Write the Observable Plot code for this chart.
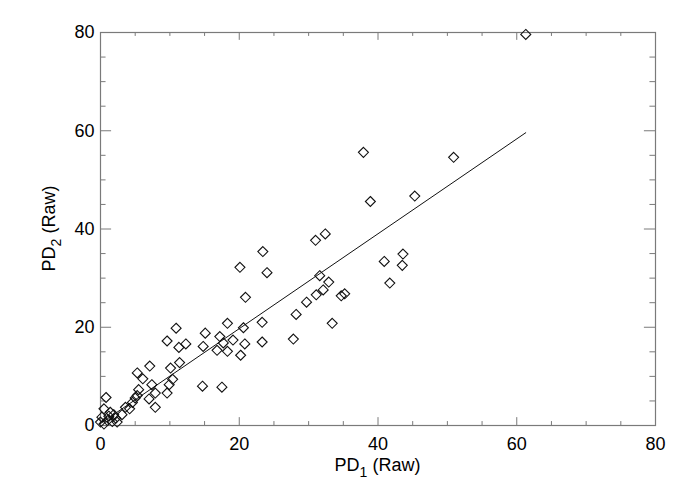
<!DOCTYPE html>
<html><head><meta charset="utf-8">
<script src="https://cdn.jsdelivr.net/npm/d3@7"></script>
<script src="https://cdn.jsdelivr.net/npm/@observablehq/plot@0.6"></script>
<style>
body{margin:0;background:#fff}
svg{display:block}
</style>
</head><body><div id="chart"></div>
<script>
// Scatter data (PD1 raw, PD2 raw)
const pd1 = [61.3, 50.9, 45.3, 37.9, 38.9, 40.9, 43.6, 43.5, 41.7, 31.0, 32.4, 23.4, 20.1, 24.0, 20.9,
  31.6, 32.9, 32.1, 31.1, 29.7, 34.7, 35.2, 28.2, 33.4, 23.3, 20.6, 19.1, 20.8, 23.3, 27.8,
  20.2, 18.3, 15.1, 17.2, 10.9, 9.6, 11.3, 12.3, 14.8, 16.8, 17.7, 18.3, 11.4, 10.1, 7.1,
  5.3, 6.1, 7.4, 9.9, 10.4, 9.6, 7.9, 7.0, 7.9, 14.7, 17.5, 5.5, 5.3, 5.0, 4.6,
  4.2, 3.6, 3.1, 0.8, 0.5, 1.4, 1.9, 1.2, 2.2, 0.2, 0.0, 1.7, 1.0, 0.5, 2.4];
const pd2 = [79.6, 54.6, 46.7, 55.6, 45.6, 33.4, 34.9, 32.6, 29.0, 37.7, 39.0, 35.4, 32.2, 31.1, 26.1,
  30.5, 29.2, 27.6, 26.6, 25.1, 26.4, 26.8, 22.6, 20.8, 21.0, 19.9, 17.4, 16.6, 17.0, 17.6,
  14.3, 20.8, 18.8, 18.1, 19.8, 17.2, 15.9, 16.6, 16.1, 15.3, 16.8, 15.1, 12.8, 11.7, 12.1,
  10.7, 9.5, 8.3, 8.3, 9.4, 6.6, 6.6, 5.4, 3.7, 8.0, 7.8, 7.3, 6.1, 5.6, 4.7,
  3.4, 3.7, 2.2, 5.7, 3.4, 2.7, 2.2, 1.9, 1.5, 1.7, 0.7, 0.8, 1.0, 0.3, 0.7];
// Fitted line end points
const fitX = [0, 61.3];
const fitY = [0.4, 59.6];
// Axis ticks
const majorTicks = [0, 20, 40, 60, 80];
const minorTicks = [5, 10, 15, 25, 30, 35, 45, 50, 55, 65, 70, 75];
const xLabel = ["PD", "1", " (Raw)"];
const yLabel = ["PD", "2", " (Raw)"];

const points = pd1.map((x, i) => ({x, y: pd2[i]}));
const fit = fitX.map((x, i) => ({x, y: fitY[i]}));

const W = 685, H = 489;
const mL = 100, mR = 30, mT = 32, mB = 64;
const innerH = H - mT - mB;
const innerW = W - mL - mR;
const xMaj = 0.02 * innerH, xMin = xMaj / 2;
const yMaj = 0.02 * innerW, yMin = yMaj / 2;
const axisGray = "#7a7a7a";

const chart = Plot.plot({
  width: W, height: H,
  marginLeft: mL, marginRight: mR, marginTop: mT, marginBottom: mB,
  style: {fontFamily: "'Liberation Sans', Arial, sans-serif", fontSize: "18px", color: "#000", background: "#fff"},
  x: {domain: [0, 80]},
  y: {domain: [0, 80]},
  marks: [
    Plot.frame({stroke: axisGray, strokeWidth: 1.2}),
    // inward ticks: bottom & top
    Plot.tickX(majorTicks, {x: d => d, stroke: axisGray, insetTop: innerH - xMaj}),
    Plot.tickX(minorTicks, {x: d => d, stroke: axisGray, insetTop: innerH - xMin}),
    Plot.tickX(majorTicks, {x: d => d, stroke: axisGray, insetBottom: innerH - xMaj}),
    Plot.tickX(minorTicks, {x: d => d, stroke: axisGray, insetBottom: innerH - xMin}),
    // inward ticks: left & right
    Plot.tickY(majorTicks, {y: d => d, stroke: axisGray, insetRight: innerW - yMaj}),
    Plot.tickY(minorTicks, {y: d => d, stroke: axisGray, insetRight: innerW - yMin}),
    Plot.tickY(majorTicks, {y: d => d, stroke: axisGray, insetLeft: innerW - yMaj}),
    Plot.tickY(minorTicks, {y: d => d, stroke: axisGray, insetLeft: innerW - yMin}),
    Plot.axisX(majorTicks, {tickSize: 0, tickPadding: 12, label: null, fontSize: 18}),
    Plot.axisY(majorTicks, {tickSize: 0, tickPadding: 6, label: null, fontSize: 18}),
    Plot.line(fit, {x: "x", y: "y", stroke: "#111", strokeWidth: 1}),
    Plot.dot(points, {x: "x", y: "y", symbol: "diamond2", r: 4.5, stroke: "#111", strokeWidth: 1.1, fill: "none"})
  ]
});

const svg = d3.select(chart);
function addLabel(parts, x, y, rotate) {
  const t = svg.append("text")
    .attr("transform", `translate(${x},${y})` + (rotate ? " rotate(-90)" : ""))
    .attr("text-anchor", "middle")
    .attr("fill", "#000")
    .attr("font-size", 18);
  t.append("tspan").text(parts[0]);
  t.append("tspan").attr("dy", 6).attr("font-size", 14).text(parts[1]);
  t.append("tspan").attr("dy", -6).text(parts[2]);
}
addLabel(xLabel, mL + innerW / 2, 471, false);
addLabel(yLabel, 55, mT + innerH / 2, true);

document.getElementById("chart").appendChild(chart);
</script>
</body></html>
